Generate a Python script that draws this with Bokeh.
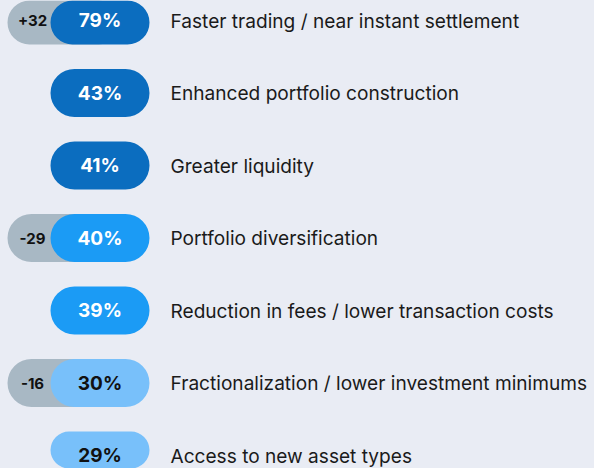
from bokeh.plotting import figure
from bokeh.models import Range1d, ColumnDataSource
from bokeh.core.properties import value
from bokeh.embed import file_html
from bokeh.resources import INLINE

labels = [
    "Faster trading / near instant settlement",
    "Enhanced portfolio construction",
    "Greater liquidity",
    "Portfolio diversification",
    "Reduction in fees / lower transaction costs",
    "Fractionalization / lower investment minimums",
    "Access to new asset types",
]
values = [79, 43, 41, 40, 39, 30, 29]
deltas = [32, None, None, -29, None, -16, None]
tiers = [0, 0, 0, 1, 1, 2, 2]

BG = "#e9ecf4"
TIER_FILL = ["#0b6dbf", "#1b9bf5", "#78c0fa"]
TIER_TEXT = ["#ffffff", "#ffffff", "#111111"]
GREY = "#a8b8c4"

W, H = 594, 468
ROW0, STEP = 20.0, 72.5
PILL_H = 48.0 / STEP

rows = list(range(len(labels)))

p = figure(width=W, height=H, output_backend="svg", toolbar_location=None,
           x_range=Range1d(0, W),
           y_range=Range1d((H - ROW0) / STEP, -ROW0 / STEP),
           min_border=0, min_border_left=0, min_border_right=0,
           min_border_top=0, min_border_bottom=0)
p.axis.visible = False
p.grid.visible = False
p.outline_line_color = None
p.background_fill_color = BG
p.border_fill_color = BG

# grey delta pills
d_rows = [r for r, d in zip(rows, deltas) if d is not None]
d_text = [("+%d" % d if d > 0 else "-%d" % abs(d)) for d in deltas if d is not None]
dsrc = ColumnDataSource(dict(y=d_rows, t=d_text))
p.hbar(y="y", left=7, right=120, height=PILL_H, source=dsrc,
       fill_color=GREY, line_color=None, border_radius=24)
p.text(x=32, y="y", text="t", source=dsrc, text_align="center",
       text_baseline="middle", text_font=value("Inter"), text_font_style="bold",
       text_font_size="15px", text_color="#111111")

# main pills
src = ColumnDataSource(dict(
    y=rows,
    fill=[TIER_FILL[t] for t in tiers],
    tc=[TIER_TEXT[t] for t in tiers],
    v=["%d%%" % v for v in values],
    lab=labels,
))
p.hbar(y="y", left=50, right=149, height=PILL_H, source=src,
       fill_color="fill", line_color=None, border_radius=24)
p.text(x=99.5, y="y", text="v", source=src, text_align="center",
       text_baseline="middle", text_font=value("Inter"), text_font_style="bold",
       text_font_size="19px", text_color="tc")
p.text(x=170, y="y", text="lab", source=src, text_align="left",
       text_baseline="middle", text_font=value("Inter"),
       text_font_size="19.1px", text_color="#1a1a1a")

html = file_html(p, INLINE)
html = html.replace("<head>", "<head><style>html,body{margin:0;padding:0;background:%s;overflow:hidden}</style>" % BG, 1)
open("out.html", "w").write(html)
